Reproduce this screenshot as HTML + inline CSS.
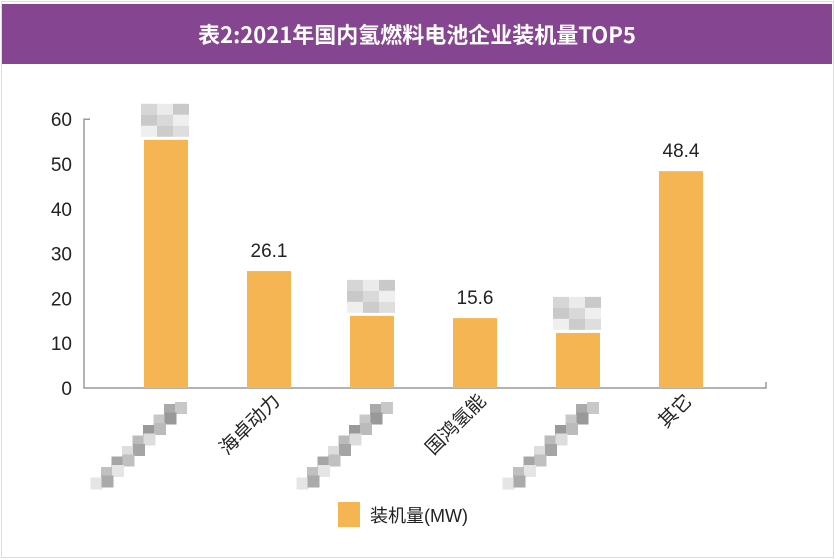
<!DOCTYPE html>
<html><head><meta charset="utf-8">
<style>
body{margin:0;background:#fff;}
svg{display:block;font-family:"Liberation Sans","Noto Sans CJK SC",sans-serif;}
</style></head>
<body>
<svg width="835" height="560" viewBox="0 0 835 560">
<rect x="1.5" y="1.5" width="832" height="556" fill="#fff" stroke="#ddd"/>
<rect x="2" y="4" width="830" height="60" fill="#864591"/>
<text x="417" y="43" text-anchor="middle" fill="#fff" font-size="22" font-weight="bold" font-family="'Noto Sans CJK SC',sans-serif">表2:2021年国内氢燃料电池企业装机量TOP5</text>
<g id="plot"></g>
<rect x="338" y="502" width="22" height="25" fill="#f5b552"/>
<text x="370" y="522" font-size="18" fill="#222">装机量(MW)</text>
</svg>
<script>
const categories=["","海卓动力","","国鸿氢能","","其它"];
const values=[55.4,26.1,16.1,15.6,12.3,48.4];
const showValue=[false,true,false,true,false,true];
const yTicks=[0,10,20,30,40,50,60];
const NS="http://www.w3.org/2000/svg";
const g=document.getElementById('plot');
const x0=84,x1=766,yBase=388,pxPerUnit=4.48;
const y=v=>yBase-v*pxPerUnit;
const band=(x1-x0)/categories.length*0.905;
const xc=i=>166+i*103;
function mk(t,a){const e=document.createElementNS(NS,t);for(const k in a)e.setAttribute(k,a[k]);g.appendChild(e);return e;}
let ax=mk('path',{d:`M${x0+6} ${y(60)}H${x0}V${yBase}H${x1}V${yBase-6}`,fill:'none',stroke:'#999','stroke-width':1.5});


yTicks.forEach(t=>{
  const tx=mk('text',{x:72,y:y(t)+7,'text-anchor':'end','font-size':19,fill:'#222'});
  tx.textContent=t;
  
  
});
values.forEach((v,i)=>{
  const r=mk('rect',{x:xc(i)-22,y:y(v),width:44,height:v*pxPerUnit,fill:'#f5b552'});
  
  
  if(showValue[i]){
    const t=mk('text',{x:xc(i),y:y(v)-14,'text-anchor':'middle','font-size':19,fill:'#222'});
    t.textContent=v;
    
    
  }
  if(categories[i]){
    const t=mk('text',{x:xc(i)+12,y:402,'text-anchor':'end','font-size':19,fill:'#222',transform:`rotate(-45 ${xc(i)+12} 402)`});
    t.textContent=categories[i];
    
    
  } else {
    // pixelated (obscured) label and value
    const grp=mk('g',{});
    
    
    const shades=['#aaa','#c8c8c8','#999','#bbb','#ddd','#a5a5a5','#c0c0c0','#e5e5e5'];
    for(let k=0;k<8;k++){
      for(let j=0;j<2;j++){
        const r2=document.createElementNS(NS,'rect');
        r2.setAttribute('x',xc(i)-2-k*10.5+j*11);r2.setAttribute('y',404+k*10.5-j*2);
        r2.setAttribute('width',12);r2.setAttribute('height',12);
        r2.setAttribute('fill',shades[(k+j)%8]);grp.appendChild(r2);
      }
    }
    const top=y(v)-36;
    for(let a=0;a<3;a++)for(let b=0;b<3;b++){
      const r3=document.createElementNS(NS,'rect');
      r3.setAttribute('x',xc(i)-25+a*16);r3.setAttribute('y',top+b*11);
      r3.setAttribute('width',16);r3.setAttribute('height',11);
      r3.setAttribute('fill',shades[(a+b*2+3)%8]);r3.setAttribute('opacity',0.6);grp.appendChild(r3);
    }
  }
});
</script>
</body></html>
